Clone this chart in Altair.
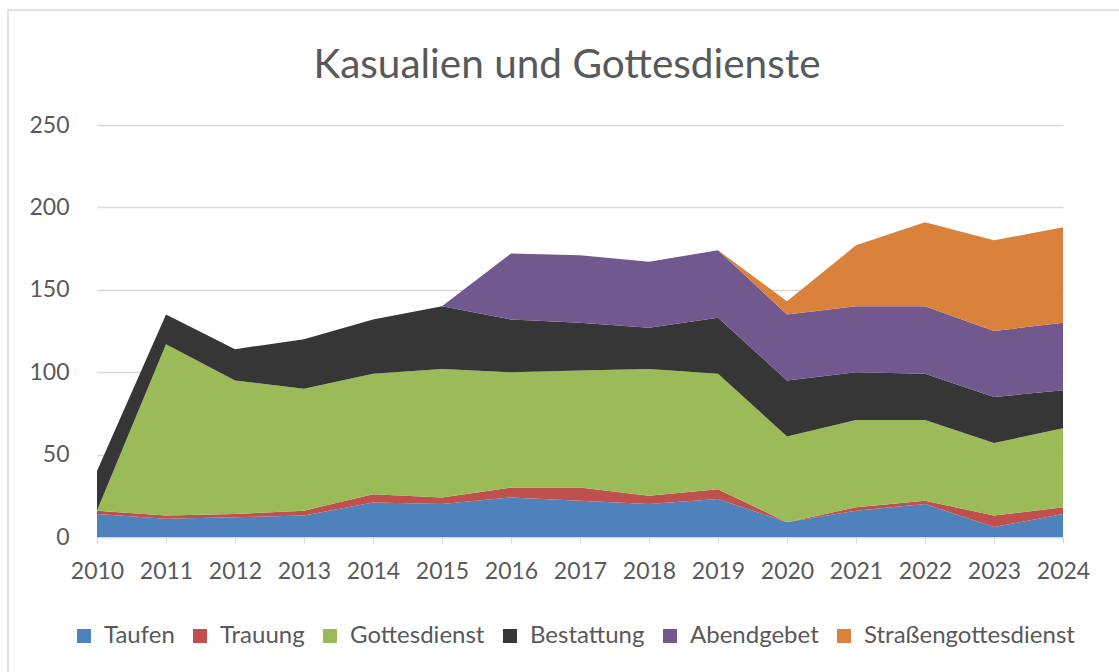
import altair as alt
import pandas as pd

years = [2010, 2011, 2012, 2013, 2014, 2015, 2016, 2017, 2018, 2019, 2020, 2021, 2022, 2023, 2024]
series = ["Taufen", "Trauung", "Gottesdienst", "Bestattung", "Abendgebet", "Straßengottesdienst"]
colors = ["#4F81BD", "#C0504D", "#9BBB59", "#363636", "#71588F", "#DA823C"]

taufen = [14, 11, 12, 13, 21, 20, 24, 22, 20, 23, 9, 16, 20, 6, 14]
trauung = [2, 2, 2, 3, 5, 4, 6, 8, 5, 6, 0, 2, 2, 7, 4]
gottesdienst = [0, 104, 81, 74, 73, 78, 70, 71, 77, 70, 52, 53, 49, 44, 48]
bestattung = [24, 18, 19, 30, 33, 38, 32, 29, 25, 34, 34, 29, 28, 28, 23]
abendgebet = [0, 0, 0, 0, 0, 0, 40, 41, 40, 41, 40, 40, 41, 40, 41]
strassen = [0, 0, 0, 0, 0, 0, 0, 0, 0, 0, 8, 37, 51, 55, 58]

y_ticks = [0, 50, 100, 150, 200, 250]

values = [taufen, trauung, gottesdienst, bestattung, abendgebet, strassen]
rows = []
for i, (name, vals) in enumerate(zip(series, values)):
    for yr, v in zip(years, vals):
        rows.append({"Jahr": str(yr), "Art": name, "Anzahl": v, "ord": i})
df = pd.DataFrame(rows)

FONT = "Lato"
GREY = "#595959"

area = alt.Chart(df).mark_area(opacity=1).encode(
    x=alt.X("Jahr:O", scale=alt.Scale(type="point", padding=0),
            axis=alt.Axis(title=None, labelAngle=0, grid=False, domainColor="#d9d9d9",
                          domainWidth=1.3, ticks=True, tickColor="#d9d9d9", tickSize=6,
                          tickWidth=1.3, labelPadding=17)),
    y=alt.Y("Anzahl:Q", stack="zero", scale=alt.Scale(domain=[0, 250], nice=False),
            axis=alt.Axis(title=None, values=y_ticks, domain=False, ticks=False,
                          gridColor="#d9d9d9", gridWidth=1.3, labelPadding=28)),
    color=alt.Color("Art:N", sort=series,
                    scale=alt.Scale(domain=series, range=colors),
                    legend=alt.Legend(title=None, orient="none", direction="horizontal",
                                      legendX=-25, legendY=499, symbolType="square",
                                      symbolSize=196, symbolStrokeWidth=0, symbolOpacity=1,
                                      labelFontSize=24, labelFont=FONT, labelColor=GREY,
                                      labelOffset=8, columnPadding=13, padding=0,
                                      labelLimit=400)),
    order=alt.Order("ord:Q", sort="ascending"),
)

frame = alt.Chart(pd.DataFrame({"k": [0]})).mark_rect(
    fill=None, stroke="#d9d9d9", strokeWidth=1.5
).encode(
    x=alt.value(-89), y=alt.value(-115), x2=alt.value(1100), y2=alt.value(700)
)

chart = alt.layer(frame, area).properties(
    width=966, height=412,
    padding={"left": 97, "top": 125, "right": 56, "bottom": 135},
    autosize=alt.AutoSizeParams(type="none"),
    title=alt.TitleParams("Kasualien und Gottesdienste", fontSize=40.5, font=FONT,
                          color=GREY, fontWeight="normal", anchor="middle",
                          offset=-77, dx=-13),
).configure_axis(
    labelFont=FONT, labelFontSize=23, labelColor=GREY
).configure_view(stroke=None)

chart.save("out.html", embed_options={"renderer": "svg", "actions": False})
